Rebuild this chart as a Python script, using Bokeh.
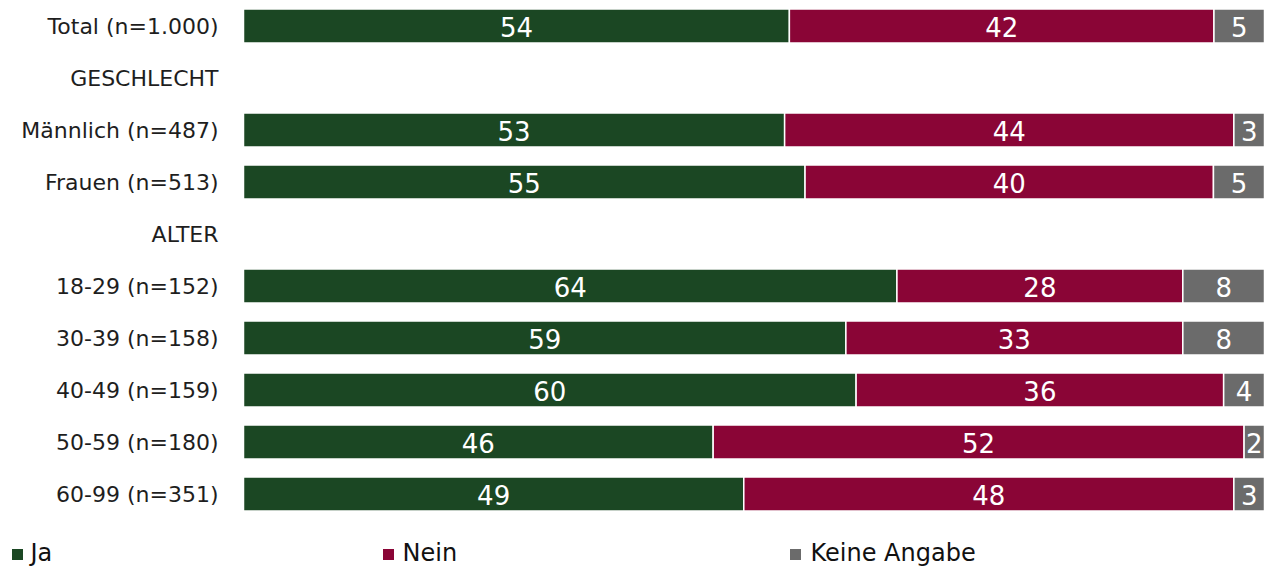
from bokeh.plotting import figure
from bokeh.models import Range1d, ColumnDataSource
from bokeh.core.properties import value
from bokeh.embed import file_html
from bokeh.resources import INLINE

# ---- data ----
labels = ["Total (n=1.000)", "GESCHLECHT", "Männlich (n=487)", "Frauen (n=513)",
          "ALTER", "18-29 (n=152)", "30-39 (n=158)", "40-49 (n=159)",
          "50-59 (n=180)", "60-99 (n=351)"]
ja    = [54, None, 53, 55, None, 64, 59, 60, 46, 49]
nein  = [42, None, 44, 40, None, 28, 33, 36, 52, 48]
keine = [5,  None, 3,  5,  None, 8,  8,  4,  2,  3]
series_names = ["Ja", "Nein", "Keine Angabe"]
colors = ["#1b4723", "#8a0536", "#6b6b6b"]

# ---- layout constants (pixels) ----
W, H = 1264, 567
bar_left_px = 243          # px where 0 % starts
px_per = (W - bar_left_px) / 100.0
row_px = 52.0
first_row_px = 25.5

def xpx(px):
    return (px - bar_left_px) / px_per

def ypx(px):
    return (px - first_row_px) / row_px

p = figure(width=W, height=H, output_backend="svg", toolbar_location=None,
           x_range=Range1d(xpx(0), 100), y_range=Range1d(ypx(H), ypx(0)),
           min_border=0, min_border_left=0, min_border_right=0,
           min_border_top=0, min_border_bottom=0)
p.axis.visible = False
p.grid.visible = False
p.outline_line_color = None
p.background_fill_color = "white"

# bars
rows = [i for i, v in enumerate(ja) if v is not None]
series = [ja, nein, keine]
for s, (vals, col) in enumerate(zip(series, colors)):
    ys, lefts, rights, mids, txt = [], [], [], [], []
    for i in rows:
        tot = ja[i] + nein[i] + keine[i]
        before = sum(series[k][i] for k in range(s))
        l = before / tot * 100
        r = (before + vals[i]) / tot * 100
        ys.append(i); lefts.append(l); rights.append(r)
        mids.append((l + r) / 2); txt.append(str(vals[i]))
    src = ColumnDataSource(dict(y=ys, left=lefts, right=rights, mid=mids, txt=txt))
    p.hbar(y="y", left="left", right="right", height=34 / row_px, source=src,
           fill_color=col, line_color="white", line_width=1.5)
    p.text(x="mid", y="y", text="txt", source=src, text_color="white",
           text_font=value("DejaVu Sans"), text_font_size="26px",
           text_align="center", text_baseline="middle", y_offset=1)

# category labels
lsrc = ColumnDataSource(dict(y=list(range(len(labels))), t=labels))
p.text(x=xpx(218), y="y", text="t", source=lsrc, text_color="#1e1e1e",
       text_font=value("DejaVu Sans"), text_font_size="22px",
       text_align="right", text_baseline="middle")

# legend
leg_sq_y = ypx(554)
leg_tx_y = ypx(552)
sq_px = [17, 388, 795]
tx_px = [30, 402, 810]
for name, col, sx, tx in zip(series_names, colors, sq_px, tx_px):
    p.rect(x=[xpx(sx)], y=[leg_sq_y], width=11, height=11, width_units="screen",
           height_units="screen", fill_color=col, line_color=None)
    p.text(x=[xpx(tx)], y=[leg_tx_y], text=[name], text_color="#111111",
           text_font=value("DejaVu Sans"), text_font_size="24px",
           text_align="left", text_baseline="middle")

open("out.html", "w").write(file_html(p, INLINE))
